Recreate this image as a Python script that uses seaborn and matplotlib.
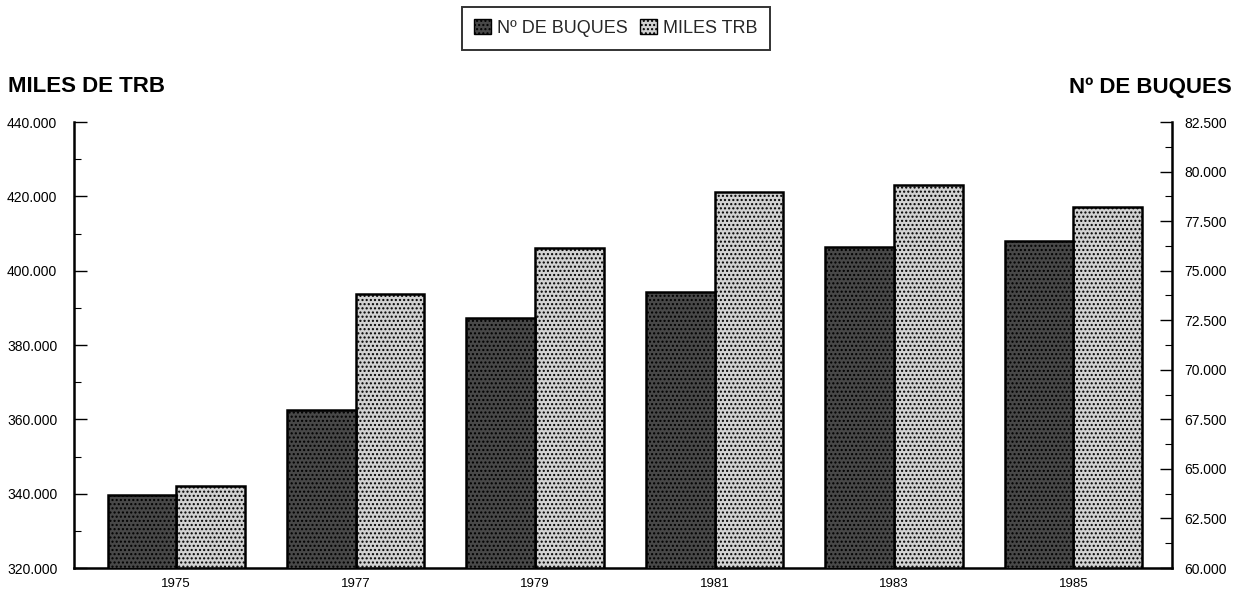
import numpy as np
import pandas as pd
import matplotlib
matplotlib.use('Agg')
import matplotlib.pyplot as plt
import seaborn as sns
from matplotlib.ticker import FuncFormatter, MultipleLocator
from matplotlib.patches import Patch

years = ['1975', '1977', '1979', '1981', '1983', '1985']
buques = [63700, 67950, 72600, 73900, 76200, 76500]
miles_trb = [342000, 393800, 406000, 421300, 423000, 417000]
series = ['Nº DE BUQUES', 'MILES TRB']

sns.set_theme(style='white')
plt.rcParams['font.family'] = ['Liberation Sans', 'DejaVu Sans']
plt.rcParams['hatch.linewidth'] = 1.0
plt.rcParams['axes.edgecolor'] = 'black'

df = pd.DataFrame({
    'year': years * 2,
    'serie': [series[0]] * len(years) + [series[1]] * len(years),
    'buques': buques + [np.nan] * len(years),
    'trb': [np.nan] * len(years) + miles_trb,
})

colors = {series[0]: '#484848', series[1]: '#d2d2d2'}

fig = plt.figure(figsize=(12.4, 5.93), dpi=100)
ax1 = fig.add_axes([74 / 1240, 25 / 593, 1098 / 1240, 446 / 593])
ax2 = ax1.twinx()

common = dict(x='year', hue='serie', hue_order=series, order=years, palette=colors,
              width=0.765, gap=0, dodge=True, legend=False, edgecolor='black',
              linewidth=1.8, saturation=1, errorbar=None)
sns.barplot(data=df, y='trb', ax=ax1, **common)
sns.barplot(data=df, y='buques', ax=ax2, **common)

for ax in (ax1, ax2):
    for p in ax.patches:
        p.set_hatch('....')
        p.set_edgecolor('black')

ax1.set_xlim(-0.57, 5.55)
ax1.set_ylim(320000, 440000)
ax2.set_ylim(60000, 82500)

fmt = FuncFormatter(lambda v, p: f'{v:,.0f}'.replace(',', '.'))
ax1.yaxis.set_major_locator(MultipleLocator(20000))
ax1.yaxis.set_minor_locator(MultipleLocator(10000))
ax2.yaxis.set_major_locator(MultipleLocator(2500))
ax2.yaxis.set_minor_locator(MultipleLocator(1250))
ax1.yaxis.set_major_formatter(fmt)
ax2.yaxis.set_major_formatter(fmt)

for ax in (ax1, ax2):
    ax.tick_params(axis='y', which='major', direction='in', length=9, width=1,
                   color='black', labelsize=10, labelcolor='black')
    ax.tick_params(axis='y', which='minor', direction='in', length=5, width=0.8,
                   color='black')
    ax.set_xlabel('')
    ax.set_ylabel('')
    ax.spines['top'].set_visible(False)
    ax.grid(False)
ax1.tick_params(axis='y', which='both', left=True, right=False, pad=12)
ax2.tick_params(axis='y', which='both', left=False, right=True, pad=9)
ax1.tick_params(axis='x', length=0, labelsize=9.5, pad=7, labelcolor='black')
ax2.tick_params(axis='x', length=0)

ax1.spines['right'].set_visible(False)
ax2.spines['left'].set_visible(False)
ax2.spines['bottom'].set_visible(False)
for s in ('left', 'bottom'):
    ax1.spines[s].set_linewidth(1.8)
    ax1.spines[s].set_color('black')
ax2.spines['right'].set_linewidth(1.8)
ax2.spines['right'].set_color('black')

fig.text(8 / 1240, 1 - 87 / 593, 'MILES DE TRB', fontsize=16, fontweight='bold',
         va='center', ha='left', color='black')
fig.text(1232 / 1240, 1 - 87 / 593, 'Nº DE BUQUES', fontsize=16, fontweight='bold',
         va='center', ha='right', color='black')

handles = [Patch(facecolor=colors[s], edgecolor='black', hatch='....', linewidth=1) for s in series]
leg = fig.legend(handles, series, loc='center', bbox_to_anchor=(616 / 1240, 1 - 28 / 593),
                 ncol=2, frameon=True, fancybox=False, edgecolor='black', fontsize=13,
                 handlelength=0.9, handleheight=0.9, columnspacing=0.7,
                 handletextpad=0.35, borderpad=0.7)
leg.get_frame().set_linewidth(1.4)

fig.savefig('out.png', dpi=100)
